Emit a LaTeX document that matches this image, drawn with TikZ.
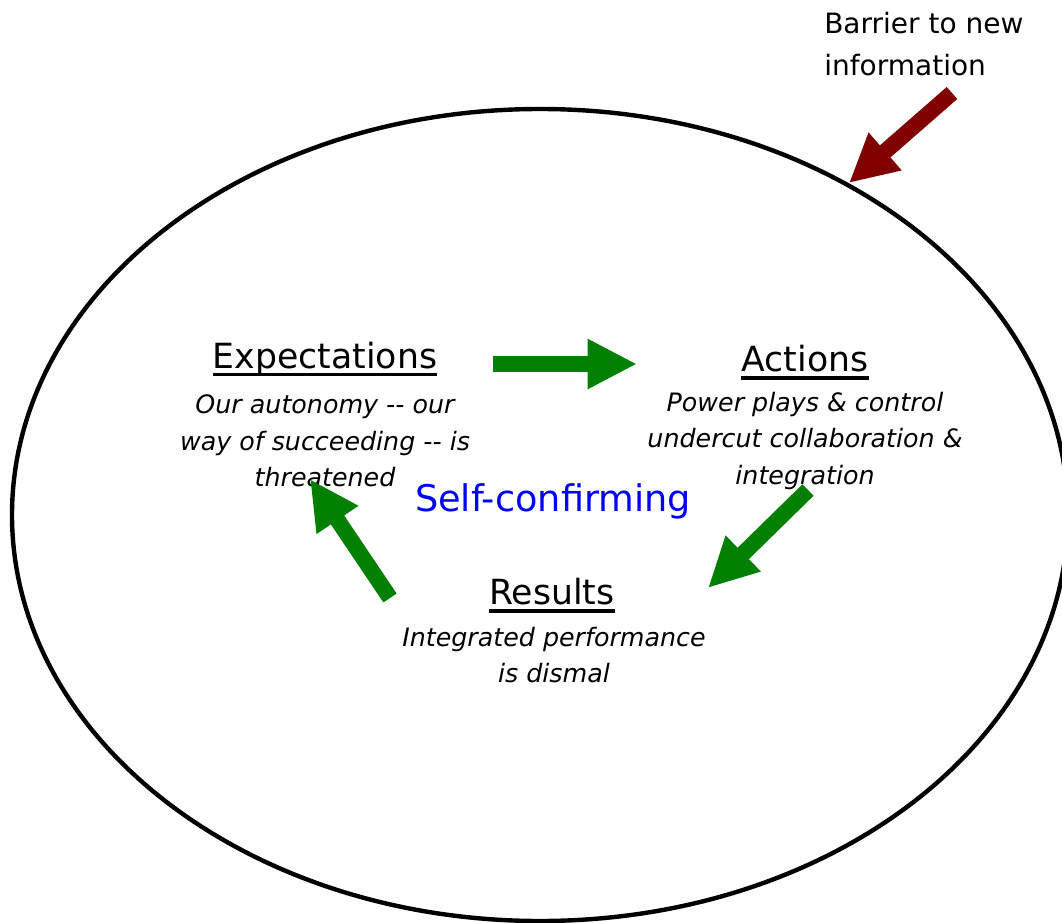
\documentclass[tikz,border=0pt]{standalone}
\usepackage{fontspec}
\setmainfont{DejaVu Sans}
\usetikzlibrary{arrows.meta, positioning}
\definecolor{loopgreen}{HTML}{008000}
\definecolor{barrierred}{HTML}{800000}
\definecolor{loopblue}{HTML}{0000FF}

\begin{document}
\begin{tikzpicture}[
  x=0.75pt, y=-0.75pt,
  headbox/.style={font=\fontsize{26}{30}\selectfont, inner sep=0pt},
  notebox/.style={font=\fontsize{19}{27.5}\selectfont\itshape, align=center, inner sep=0pt},
  underbar/.style={line width=2.4pt},
  looparrow/.style={line width=12pt, loopgreen, -{Triangle[length=37pt, width=35pt]}},
  barrierarrow/.style={line width=12pt, barrierred, -{Triangle[length=36pt, width=35pt]}}
]
  \useasboundingbox (0,0) rectangle (1062,923);

  % The closed world of the loop
  \draw[line width=3.3pt] (540,515) ellipse [x radius=528, y radius=406];

  % Stages of the loop
  \node[headbox] (exp-head) at (325,359) {Expectations};
  \node[notebox] (exp-note) at (325,441) {Our autonomy -{}- our\\way of succeeding -{}- is\\threatened};
  \node[headbox] (act-head) at (805,359) {Actions};
  \node[notebox] (act-note) at (805,441) {Power plays \& control\\undercut collaboration \&\\integration};
  \node[headbox] (res-head) at (552,592) {Results};
  \node[notebox] (res-note) at (554,655) {Integrated performance\\is dismal};

  % Underlines of the headings
  \draw[underbar] ([yshift=-4.5pt]exp-head.base west) -- ([yshift=-4.5pt]exp-head.base east);
  \draw[underbar] ([yshift=-4.5pt]act-head.base west) -- ([yshift=-4.5pt]act-head.base east);
  \draw[underbar] ([yshift=-4.5pt]res-head.base west) -- ([yshift=-4.5pt]res-head.base east);

  % Centre label
  \node[font=\fontsize{27.5}{32}\selectfont, color=loopblue] (self) at (553,501) {Self-confirming};

  % Outside label
  \node[font=\fontsize{21}{31.5}\selectfont, align=left, anchor=west, inner sep=0pt] (barrier) at (824,44) {Barrier to new\\information};

  % Arrow ends
  \coordinate (ea-tail) at (493,364);
  \coordinate (ea-tip) at (637,364);
  \coordinate (ar-tail) at (808,490);
  \coordinate (ar-tip) at (708,588);
  \coordinate (re-tail) at (390,598);
  \coordinate (re-tip) at (310,479);
  \coordinate (bar-tail) at (952,93);
  \coordinate (bar-tip) at (849,183);

  % Arrows round the loop
  \draw[looparrow] (ea-tail) -- (ea-tip);
  \draw[looparrow] (ar-tail) -- (ar-tip);
  \draw[looparrow] (re-tail) -- (re-tip);

  % Barrier arrow
  \draw[barrierarrow] (bar-tail) -- (bar-tip);
\end{tikzpicture}
\end{document}
